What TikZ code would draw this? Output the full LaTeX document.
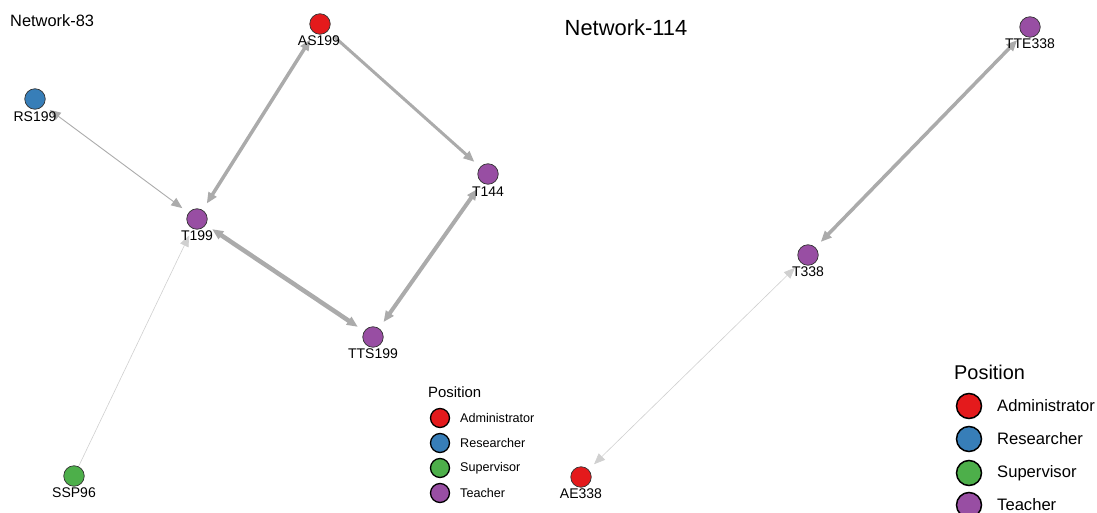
\documentclass[tikz,border=0pt]{standalone}
\usepackage{fontspec}
\setmainfont{Liberation Sans}
\usetikzlibrary{arrows.meta,backgrounds}
\definecolor{cAdm}{HTML}{E41A1C}
\definecolor{cRes}{HTML}{377EB8}
\definecolor{cSup}{HTML}{4DAF4A}
\definecolor{cTea}{HTML}{984EA3}
\definecolor{eg}{HTML}{ABABAB}
\definecolor{egl}{HTML}{D0D0D0}
\tikzset{
  nd/.style={circle, draw=black!80, line width=0.7pt, minimum size=20.5pt, inner sep=0pt, outer sep=0pt},
  lbl/.style={font=\fontsize{14pt}{16pt}\selectfont, inner sep=0pt},
  ttl/.style={font=\fontsize{16.4pt}{19pt}\selectfont, inner sep=0pt, anchor=west},
  ttlb/.style={font=\fontsize{21.9pt}{24pt}\selectfont, inner sep=0pt},
  edge/.style={draw=eg, shorten >=8pt, shorten <=8pt},
  edgel/.style={draw=egl, shorten >=8pt, shorten <=8pt},
  lega/.style={circle, draw=black, line width=1.3pt, minimum size=19pt, inner sep=0pt},
  legb/.style={circle, draw=black, line width=1.5pt, minimum size=25pt, inner sep=0pt},
  legta/.style={font=\fontsize{12.6pt}{14pt}\selectfont, anchor=west, inner sep=0pt},
  legtb/.style={font=\fontsize{16.6pt}{19pt}\selectfont, anchor=west, inner sep=0pt},
  legha/.style={font=\fontsize{14.9pt}{17pt}\selectfont, anchor=west, inner sep=0pt},
  leghb/.style={font=\fontsize{19.9pt}{22pt}\selectfont, anchor=west, inner sep=0pt},
  >={Triangle[length=11pt,width=9pt]}
}
\begin{document}
\begin{tikzpicture}[x=1pt,y=-1pt]
\useasboundingbox (0,0) rectangle (1097,513);
% titles
\node[ttl] (t83) at (10,21) {Network-83};
\node[ttlb] (t114) at (626,28) {Network-114};
% nodes network 83
\node[nd, fill=cAdm] (AS) at (320,24) {};
\node[nd, fill=cRes] (RS) at (35,99) {};
\node[nd, fill=cTea] (T199) at (197,219) {};
\node[nd, fill=cTea] (T144) at (488,174) {};
\node[nd, fill=cTea] (TTS) at (373,337) {};
\node[nd, fill=cSup] (SSP) at (74,476) {};
% nodes network 114
\node[nd, fill=cTea] (TTE) at (1030,27) {};
\node[nd, fill=cTea] (T338) at (808,255) {};
\node[nd, fill=cAdm] (AE) at (581,477) {};
% edges
\begin{pgfonlayer}{background}
\draw[edge, line width=3.5pt, <->] (AS) -- (T199);
\draw[edge, line width=3pt, ->] (AS) -- (T144);
\draw[edge, line width=0.9pt, <->] (RS) -- (T199);
\draw[edge, line width=4.5pt, <->] (T199) -- (TTS);
\draw[edge, line width=4pt, <->] (T144) -- (TTS);
\draw[edgel, line width=0.6pt, ->, shorten <=1pt] (SSP) -- (T199);
\draw[edge, line width=3.5pt, <->] (TTE) -- (T338);
\draw[edgel, line width=0.6pt, <->] (T338) -- (AE);
\end{pgfonlayer}
% labels
\node[lbl] (lAS) at (319,41) {AS199};
\node[lbl] (lRS) at (35,117) {RS199};
\node[lbl] (lT199) at (197,236) {T199};
\node[lbl] (lT144) at (488,192) {T144};
\node[lbl] (lTTS) at (373,354) {TTS199};
\node[lbl] (lSSP) at (74,493) {SSP96};
\node[lbl] (lTTE) at (1030,44) {TTE338};
\node[lbl] (lT338) at (808,272) {T338};
\node[lbl] (lAE) at (581,494) {AE338};
% legend 1
\node[legha] (lh1) at (428,392) {Position};
\node[lega, fill=cAdm] (la1) at (440,418) {};
\node[lega, fill=cRes] (la2) at (440,443) {};
\node[lega, fill=cSup] (la3) at (440,468) {};
\node[lega, fill=cTea] (la4) at (440,493) {};
\node[legta] (lat1) at (460,418) {Administrator};
\node[legta] (lat2) at (460,443) {Researcher};
\node[legta] (lat3) at (460,468) {Supervisor};
\node[legta] (lat4) at (460,493) {Teacher};
% legend 2
\node[leghb] (lh2) at (954,372) {Position};
\node[legb, fill=cAdm] (lb1) at (969,406) {};
\node[legb, fill=cRes] (lb2) at (969,439) {};
\node[legb, fill=cSup] (lb3) at (969,473) {};
\node[legb, fill=cTea] (lb4) at (969,505) {};
\node[legtb] (lbt1) at (997,406) {Administrator};
\node[legtb] (lbt2) at (997,439) {Researcher};
\node[legtb] (lbt3) at (997,473) {Supervisor};
\node[legtb] (lbt4) at (997,505) {Teacher};
\end{tikzpicture}
\end{document}
